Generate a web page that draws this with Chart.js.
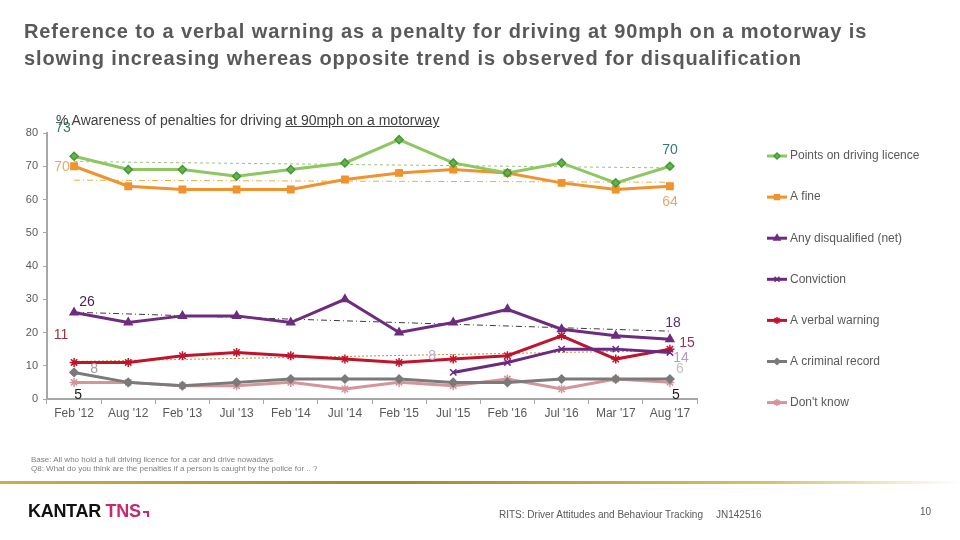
<!DOCTYPE html>
<html><head><meta charset="utf-8">
<script src="https://cdn.jsdelivr.net/npm/chart.js@4.4.0/dist/chart.umd.min.js"></script>
<style>
html,body{margin:0;padding:0;background:#fff;width:960px;height:540px;overflow:hidden;font-family:"Liberation Sans",Arial,sans-serif;}
#wrap{position:absolute;left:0;top:0;width:960px;height:540px;}
canvas{position:absolute;left:0;top:0;}
.t{position:absolute;white-space:nowrap;}
#title{left:24px;top:18px;font-size:20px;font-weight:bold;color:#595959;line-height:27px;letter-spacing:0.9px;}
#sub{left:56px;top:112px;font-size:14px;color:#404040;}
#sub u{text-decoration:underline;}
.foot{left:31px;font-size:8px;color:#7f7f7f;}
#gold{position:absolute;left:0;top:481px;width:960px;height:3px;background:linear-gradient(to right,#c9b04a,#a5862a 40%,#d8c06a 80%,#fff);}
#logo{left:28px;top:501px;font-size:18px;letter-spacing:-0.3px;font-weight:bold;}
#logo .k{color:#111;}
#logo .n{color:#c8286e;}
#mark{display:inline-block;width:4px;height:4px;border-top:2px solid #c8286e;border-right:2px solid #c8286e;margin-left:2px;}
#rits{left:499px;top:509px;font-size:10px;color:#595959;}
#jn{left:716px;top:509px;font-size:10px;color:#595959;}
#pg{left:920px;top:506px;font-size:10px;color:#595959;}
</style></head>
<body><div id="wrap">
<canvas id="c" width="960" height="540"></canvas>
<div class="t" id="title">Reference to a verbal warning as a penalty for driving at 90mph on a motorway is<br>slowing increasing whereas opposite trend is observed for disqualification</div>
<div class="t" id="sub">% Awareness of penalties for driving <u>at 90mph on a motorway</u></div>
<div class="t foot" style="top:455px">Base: All who hold a full driving licence for a car and drive nowadays</div>
<div class="t foot" style="top:464px">Q8: What do you think are the penalties if a person is caught by the police for .. ?</div>
<div id="gold"></div>
<div class="t" id="logo"><span class="k">KANTAR </span><span class="n">TNS</span><span id="mark"></span></div>
<div class="t" id="rits">RITS: Driver Attitudes and Behaviour Tracking</div>
<div class="t" id="jn">JN142516</div>
<div class="t" id="pg">10</div>
</div>
<script>
const categories = ["Feb '12","Aug '12","Feb '13","Jul '13","Feb '14","Jul '14","Feb '15","Jul '15","Feb '16","Jul '16","Mar '17","Aug '17"];
const yTicks = [0,10,20,30,40,50,60,70,80];
const pointsLicence = [73,69,69,67,69,71,78,71,68,71,65,70];
const aFine = [70,64,63,63,63,66,68,69,68,65,63,64];
const anyDisqualified = [26,23,25,25,23,30,20,23,27,21,19,18];
const conviction = [null,null,null,null,null,null,null,8,11,15,15,14];
const verbalWarning = [11,11,13,14,13,12,11,12,13,19,12,15];
const criminalRecord = [8,5,4,5,6,6,6,5,5,6,6,6];
const dontKnow = [5,5,4,4,5,3,5,4,6,3,6,5];
// trend lines: start and end values
const trendLicence = [71.4,null,null,null,null,null,null,null,null,null,null,69.5];
const trendFine = [65.8,null,null,null,null,null,null,null,null,null,null,65.2];
const trendDisq = [26.1,null,null,null,null,null,null,null,null,null,null,20.4];
const trendWarning = [11.3,null,null,null,null,null,null,null,null,null,null,14.6];

const series = [
  {label:"Points on driving licence", data:pointsLicence, color:"#8cc760", pcolor:"#6cb048", pborder:"#3f9a3a", style:"rectRot", r:4},
  {label:"A fine", data:aFine, color:"#f0922e", pcolor:"#f0922e", pborder:"#f0922e", style:"rect", r:4.5},
  {label:"Any disqualified (net)", data:anyDisqualified, color:"#6e2c7e", pcolor:"#6e2c7e", pborder:"#6e2c7e", style:"triangle", r:4.5},
  {label:"Conviction", data:conviction, color:"#6a2a82", pcolor:"#6a2a82", pborder:"#6a2a82", style:"crossRot", r:4.5},
  {label:"A verbal warning", data:verbalWarning, color:"#c0142c", pcolor:"#c0142c", pborder:"#c0142c", style:"star", r:4.5},
  {label:"A criminal record", data:criminalRecord, color:"#7a7a7a", pcolor:"#7a7a7a", pborder:"#7a7a7a", style:"rectRot", r:4},
  {label:"Don't know", data:dontKnow, color:"#d4959a", pcolor:"#d4959a", pborder:"#d4959a", style:"star", r:4.5}
];
const trends = [
  {data:trendLicence, color:"#9cbf80", dash:[3,3]},
  {data:trendFine, color:"#e8b040", dash:[6,3,1,3]},
  {data:trendDisq, color:"#3a3a3a", dash:[6,3,1,3]},
  {data:trendWarning, color:"#d08a40", dash:[2,2]}
];

const datasets = series.map(s => ({
  label:s.label, data:s.data, borderColor:s.color, backgroundColor:s.pcolor,
  pointBackgroundColor:s.pcolor, pointBorderColor:s.pborder, pointBorderWidth:1.5,
  pointStyle:s.style, pointRadius:s.r, borderWidth:3, tension:0, spanGaps:false, order:1
})).concat(trends.map(t => ({
  label:"trend", data:t.data, borderColor:t.color, borderWidth:1, borderDash:t.dash,
  pointRadius:0, spanGaps:true, order:2, isTrend:true
})));

// value labels: [datasetIndex, pointIndex, dx, dy, color]
const valueLabels = [
  [0,0,-11,-28,"#2f7c6e"],[1,0,-12,1,"#e5a868"],[0,11,0,-16,"#2f7c6e"],[1,11,0,16,"#e5a868"],
  [2,0,13,-10,"#4a2050"],[4,0,-13,-27,"#9a3040"],[5,0,20,-3,"#a0a0a0"],[6,0,4,13,"#1a1a1a"],
  [2,11,3,-16,"#5a3070"],[4,11,17,-6,"#9a3050"],[3,11,11,6,"#b99ac8"],[5,11,10,-10,"#c0c0c0"],
  [6,11,6,13,"#1a1a1a"],[3,7,-21,-16,"#c4a6d0"]
];

const labelPlugin = {
  id:"labels",
  afterDatasetsDraw(chart){
    const ctx = chart.ctx, xs = chart.scales.x, ys = chart.scales.y;
    ctx.save();
    ctx.font = "14px 'Liberation Sans', Arial, sans-serif";
    ctx.textAlign = "center"; ctx.textBaseline = "middle";
    valueLabels.forEach(([d,i,dx,dy,col]) => {
      const v = series[d].data[i];
      ctx.fillStyle = col;
      ctx.fillText(String(v), xs.getPixelForValue(i)+dx, ys.getPixelForValue(v)+dy);
    });
    // legend
    ctx.font = "12px 'Liberation Sans', Arial, sans-serif";
    ctx.textAlign = "left";
    series.forEach((s,k) => {
      const y = 156 + k*41.1;
      ctx.strokeStyle = s.color; ctx.lineWidth = 3;
      ctx.beginPath(); ctx.moveTo(767,y); ctx.lineTo(787,y); ctx.stroke();
      ctx.fillStyle = s.pcolor; ctx.strokeStyle = s.pborder; ctx.lineWidth = 1.5;
      Chart.helpers.drawPoint(ctx,{pointStyle:s.style, radius:s.r-1, rotation:0, borderWidth:1.5}, 777, y);
      ctx.fillStyle = "#595959";
      ctx.fillText(s.label, 790, y);
    });
    ctx.restore();
  }
};

new Chart(document.getElementById("c"), {
  type:"line",
  data:{labels:categories, datasets:datasets},
  options:{
    responsive:false, animation:false,
    layout:{padding:{top:133,right:263,bottom:116,left:0}},
    plugins:{legend:{display:false}, tooltip:{enabled:false}},
    scales:{
      x:{
        offset:true,
        grid:{display:true, drawOnChartArea:false, drawTicks:true, tickLength:5, color:"#a6a6a6", lineWidth:1, offset:true},
        border:{display:true, color:"#a6a6a6", width:2},
        ticks:{color:"#595959", font:{size:12, family:"'Liberation Sans', Arial, sans-serif"}, padding:2, maxRotation:0, autoSkip:false},
        afterFit(s){ s.height = 25; }
      },
      y:{
        min:0, max:80,
        afterBuildTicks(s){ s.ticks = yTicks.map(v=>({value:v})); },
        grid:{display:true, drawOnChartArea:false, drawTicks:true, tickLength:4, color:"#a6a6a6"},
        border:{display:true, color:"#a6a6a6", width:2},
        ticks:{color:"#595959", font:{size:11, family:"'Liberation Sans', Arial, sans-serif"}, padding:5},
        afterFit(s){ s.width = 47; }
      }
    }
  },
  plugins:[labelPlugin]
});
</script>
</body></html>
